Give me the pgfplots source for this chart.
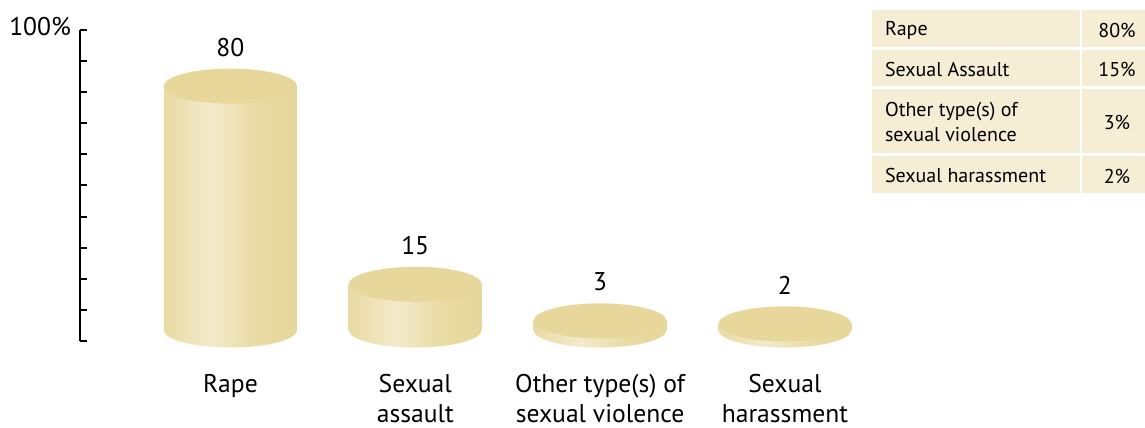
\documentclass[border=0pt]{standalone}
\usepackage{fontspec}
\setmainfont{PT Sans}
\usepackage{pgfplots}
\pgfplotsset{compat=1.18}

\definecolor{cyltop}{RGB}{232,215,155}
\definecolor{cyledge}{RGB}{233,219,164}
\definecolor{cyllight}{RGB}{243,234,203}
\definecolor{cyldark}{RGB}{230,215,156}
\definecolor{tabfill}{RGB}{245,237,212}

% side of the cylinder: light streak left of centre
\pgfdeclarehorizontalshading{cylshade}{100bp}{color(0bp)=(cyledge); color(25bp)=(cyledge); color(43bp)=(cyllight); color(60bp)=(cyledge); color(72bp)=(cyldark); color(100bp)=(cyldark)}

\pgfdeclareplotmark{cylbase}{\path[draw=none, shading=cylshade] (0pt,0pt) ellipse [x radius=33.25pt, y radius=8.75pt];}
\pgfdeclareplotmark{cyltop}{\path[draw=none, fill=cyltop] (0pt,0pt) ellipse [x radius=33.25pt, y radius=8.75pt];}

\newcommand{\chartfont}{\fontsize{12.8}{15}\selectfont}
\newcommand{\tabfont}{\fontsize{10}{12.5}\selectfont}

\pgfplotsset{cylbody/.style={ybar, bar shift=0pt, bar width=66.5pt, draw=none, shading=cylshade}}

\begin{document}
\begin{tikzpicture}
\useasboundingbox (-40pt,-43.5pt) rectangle (532.5pt,170.5pt);

% decorative scale
\begin{axis}[
    scale only axis, width=427.6pt, height=155.5pt,
    xmin=0, xmax=1, ymin=0, ymax=100,
    axis x line=none, axis y line=left,
    y axis line style={-, line width=1pt},
    ytick={0,10,20,30,40,50,60,70,80,90,100},
    yticklabels={,,,,,,,,,,100\%},
    tick align=inside, major tick length=3.5pt,
    ytick style={line width=1pt, black},
    yticklabel style={font=\chartfont, yshift=1.5pt, xshift=-1pt},
]
\end{axis}

% cylinders
\begin{axis}[
    scale only axis, width=427.6pt, height=155.5pt,
    xmin=-0.814, xmax=3.814, ymin=-3.6, ymax=98.4,
    clip=false,
    axis x line=none, axis y line=none,
    ytick=\empty,
    /pgf/number format/assume math mode=true,
]
  \addplot[only marks, mark=cylbase] coordinates {(0,0)(1,0)(2,0)(3,0)};
  \addplot[cylbody] coordinates {(0,80)};
  \addplot[cylbody] coordinates {(1,15)};
  \addplot[cylbody] coordinates {(2,3)};
  \addplot[cylbody] coordinates {(3,2)};
  \addplot[only marks, mark=cyltop,
    nodes near coords,
    every node near coord/.append style={anchor=center, yshift=19.5pt, font=\chartfont, text=black}]
    coordinates {(0,80)(1,15)(2,3)(3,2)};
\end{axis}

% category labels
\foreach \i/\lab in {0/Rape, 1/{Sexual\\assault}, 2/{Other type(s) of\\sexual violence}, 3/{Sexual\\harassment}} {
  \node[anchor=north, align=center, font=\chartfont, inner sep=0pt] at ({75.25pt+\i*92.4pt},-16.5pt) {\lab};
}

% table
\fill[tabfill] (396pt,147pt) rectangle (500pt,165.5pt);
\fill[tabfill] (501pt,147pt) rectangle (532.5pt,165.5pt);
\fill[tabfill] (396pt,127.5pt) rectangle (500pt,145.5pt);
\fill[tabfill] (501pt,127.5pt) rectangle (532.5pt,145.5pt);
\fill[tabfill] (396pt,94pt) rectangle (500pt,126pt);
\fill[tabfill] (501pt,94pt) rectangle (532.5pt,126pt);
\fill[tabfill] (396pt,74pt) rectangle (500pt,92.5pt);
\fill[tabfill] (501pt,74pt) rectangle (532.5pt,92.5pt);

\node[anchor=west, font=\tabfont] at (399pt,155.5pt) {Rape};
\node[anchor=west, font=\tabfont] at (399pt,135.75pt) {Sexual Assault};
\node[anchor=west, align=left, font=\tabfont] at (399pt,109.5pt) {Other type(s) of\\sexual violence};
\node[anchor=west, font=\tabfont] at (399pt,82.5pt) {Sexual harassment};
\node[font=\tabfont] at (518.5pt,155.5pt) {80\%};
\node[font=\tabfont] at (518.5pt,135.75pt) {15\%};
\node[font=\tabfont] at (518.5pt,109.5pt) {3\%};
\node[font=\tabfont] at (518.5pt,82.5pt) {2\%};
\end{tikzpicture}
\end{document}
